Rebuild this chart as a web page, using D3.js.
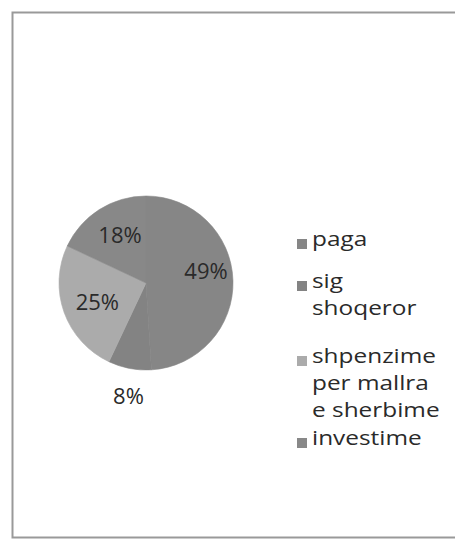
<!DOCTYPE html>
<html>
<head>
<meta charset="utf-8">
<script src="https://cdn.jsdelivr.net/npm/d3@7"></script>
<style>
  html, body { margin: 0; padding: 0; background: #fff; }
  svg { display: block; font-family: "Open Sans", "Noto Sans", sans-serif; }
</style>
</head>
<body>
<div id="chart"></div>
<script>
(function() {
    "use strict";

    // data
    var categories = ["paga", "sig shoqeror", "shpenzime per mallra e sherbime", "investime"];
    var values = [49, 8, 25, 18];
    var legendLines = [["paga"], ["sig", "shoqeror"], ["shpenzime", "per mallra", "e sherbime"], ["investime"]];
    var colors = ["#868686", "#838383", "#ababab", "#888888"];

    var width = 455, height = 542;
    var cx = 146, cy = 283, radius = 87;

    var svg = d3.select("#chart").append("svg")
        .attr("width", width)
        .attr("height", height);

    // chart frame (right edge runs off the picture)
    svg.append("rect")
        .attr("x", 12.5).attr("y", 12.5)
        .attr("width", 470).attr("height", 525)
        .attr("fill", "#fff")
        .attr("stroke", "#999")
        .attr("stroke-width", 2);

    var pie = d3.pie().sort(null).value(function(d) { return d; });
    var arcs = pie(values);

    var arc = d3.arc().innerRadius(0).outerRadius(radius);
    var insideArc = d3.arc().innerRadius(56).outerRadius(56);
    var outsideArc = d3.arc().innerRadius(115).outerRadius(115);

    var g = svg.append("g").attr("transform", "translate(" + cx + "," + cy + ")");

    g.selectAll("path.slice")
        .data(arcs)
        .join("path")
        .attr("class", "slice")
        .attr("d", arc)
        .attr("fill", function(d, i) { return colors[i]; })
        .attr("stroke", function(d, i) { return colors[i]; })
        .attr("stroke-width", 0.6);

    // labels: small slice sits outside the pie, others inside
    g.selectAll("text.pct")
        .data(arcs)
        .join("text")
        .attr("class", "pct")
        .attr("transform", function(d) {
            var c = (d.data < 10 ? outsideArc : insideArc).centroid(d);
            return "translate(" + (c[0] + 4) + "," + (c[1] - (d.data > 40 ? 10 : 0)) + ")";
        })
        .attr("text-anchor", "middle")
        .attr("dy", "0.35em")
        .style("font-size", "22px")
        .style("fill", "#2a2a2a")
        .text(function(d) { return d.data + "%"; });

    // legend
    var legendX = 297;
    var lineH = 27;
    var startY = [246, 288, 363, 445];

    var lg = svg.append("g").attr("class", "legend");
    var items = lg.selectAll("g")
        .data(legendLines)
        .join("g")
        .attr("transform", function(d, i) { return "translate(" + legendX + "," + startY[i] + ")"; });

    items.append("rect")
        .attr("x", 0).attr("y", -7)
        .attr("width", 10).attr("height", 10)
        .attr("fill", function(d, i) { return colors[i]; });

    // scanned original is a little stretched sideways
    items.append("g")
        .attr("transform", "translate(15,0) scale(1.22,1)")
        .append("text")
        .attr("dy", "0.32em")
        .style("font-size", "20px")
        .style("fill", "#2a2a2a")
        .selectAll("tspan")
        .data(function(d) { return d; })
        .join("tspan")
        .attr("x", 0)
        .attr("dy", function(d, i) { return i === 0 ? 0 : lineH; })
        .text(function(d) { return d; });
})();
</script>
</body>
</html>
